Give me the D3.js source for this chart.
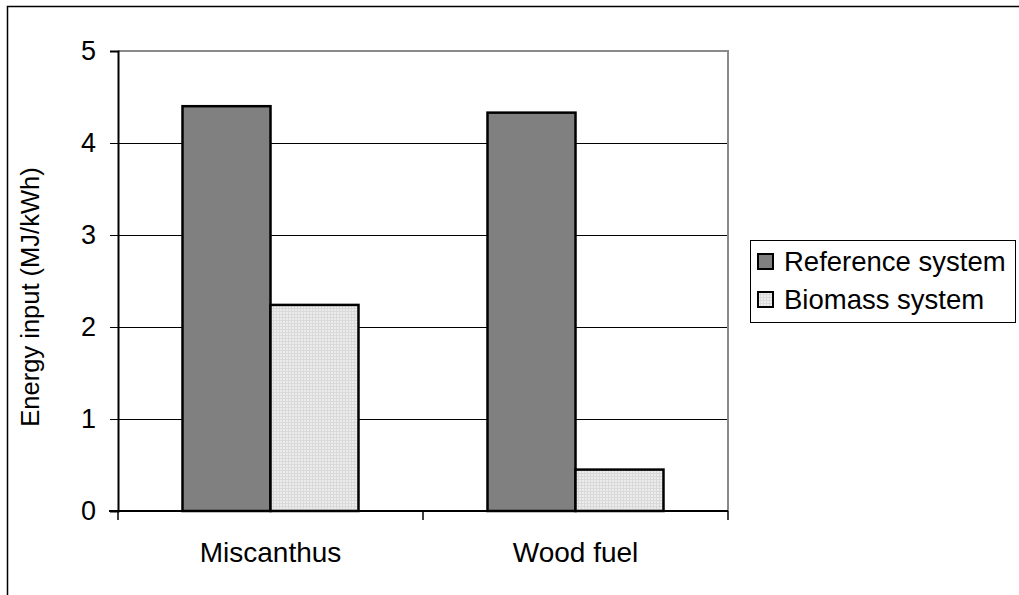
<!DOCTYPE html>
<html>
<head>
<meta charset="utf-8">
<script src="https://cdn.jsdelivr.net/npm/d3@7"></script>
<style>
  body { margin: 0; padding: 0; background: #fff; }
  text { font-family: Arial, "Liberation Sans", sans-serif; fill: #000; }
</style>
</head>
<body>
<script>
const categories = ["Miscanthus", "Wood fuel"]
const seriesNames = ["Reference system", "Biomass system"]
const referenceValues = [4.4, 4.33]
const biomassValues = [2.24, 0.45]
const yTicks = [0, 1, 2, 3, 4, 5]

const width = 1019
const height = 595
const margin = { left: 118, right: 291, top: 51, bottom: 84 }

const rows = categories.map((c, i) => ({
  category: c,
  values: [referenceValues[i], biomassValues[i]]
}))

const svg = d3.select("body").append("svg")
  .attr("width", width)
  .attr("height", height)

const defs = svg.append("defs")
const pat = defs.append("pattern")
  .attr("id", "dots")
  .attr("width", 3)
  .attr("height", 3)
  .attr("patternUnits", "userSpaceOnUse")
pat.append("rect").attr("width", 3).attr("height", 3).attr("fill", "#d9d9d9")
pat.append("rect").attr("width", 2).attr("height", 2).attr("fill", "#ececec")

const fills = ["#808080", "url(#dots)"]

// outer frame (only top and left edges visible)
svg.append("path")
  .attr("d", `M7.5,${height} V6.5 H${width}`)
  .attr("fill", "none")
  .attr("stroke", "#000")
  .attr("stroke-width", 1.5)

const y = d3.scaleLinear()
  .domain([0, 5])
  .range([height - margin.bottom, margin.top])

const x = d3.scaleBand()
  .domain(categories)
  .range([margin.left, width - margin.right])
  .padding(0)

const xInner = d3.scaleBand()
  .domain(seriesNames)
  .range([0, x.bandwidth()])
  .paddingInner(0)
  .paddingOuter(0.733)

// gridlines
svg.append("g")
  .selectAll("line")
  .data(yTicks.filter(t => t > 0 && t < 5))
  .join("line")
  .attr("x1", margin.left)
  .attr("x2", width - margin.right)
  .attr("y1", d => Math.round(y(d)) + 0.5)
  .attr("y2", d => Math.round(y(d)) + 0.5)
  .attr("stroke", "#000")
  .attr("stroke-width", 1)

// plot area top / right border (grey)
svg.append("path")
  .attr("d", `M${margin.left},${y(5)} H${width - margin.right} V${y(0)}`)
  .attr("fill", "none")
  .attr("stroke", "#8a8a8a")
  .attr("stroke-width", 2)

// bars
svg.append("g")
  .selectAll("g")
  .data(rows)
  .join("g")
  .attr("transform", d => `translate(${x(d.category)},0)`)
  .selectAll("rect")
  .data(d => d.values.map((v, i) => ({ name: seriesNames[i], value: v, i })))
  .join("rect")
  .attr("x", d => xInner(d.name))
  .attr("width", xInner.bandwidth())
  .attr("y", d => y(d.value))
  .attr("height", d => y(0) - y(d.value))
  .attr("fill", d => fills[d.i])
  .attr("stroke", "#000")
  .attr("stroke-width", 2.5)

// y axis
const yAxis = svg.append("g")
  .attr("transform", `translate(${margin.left},0)`)
  .call(d3.axisLeft(y).tickValues(yTicks).tickSize(8).tickPadding(14).tickFormat(d3.format("d")))
yAxis.select(".domain").attr("stroke", "#000").attr("stroke-width", 2)
yAxis.selectAll(".tick line").attr("stroke", "#000")
yAxis.selectAll("text").attr("font-size", 27).attr("fill", "#000")
  .style("font-family", "Arial, 'Liberation Sans', sans-serif")

// x axis
const xAxis = svg.append("g")
  .attr("transform", `translate(0,${y(0)})`)
  .call(d3.axisBottom(x).tickSize(0).tickPadding(31))
xAxis.select(".domain").remove()
xAxis.selectAll("text").attr("font-size", 28).attr("fill", "#000")
  .style("font-family", "Arial, 'Liberation Sans', sans-serif")

svg.append("line")
  .attr("x1", margin.left - 9)
  .attr("x2", width - margin.right)
  .attr("y1", y(0))
  .attr("y2", y(0))
  .attr("stroke", "#000")
  .attr("stroke-width", 2)

// category separators (ticks below axis)
const sepX = [margin.left, width - margin.right, ...categories.slice(1).map(c => x(c))]
svg.append("g")
  .selectAll("line")
  .data(sepX)
  .join("line")
  .attr("x1", d => d)
  .attr("x2", d => d)
  .attr("y1", y(0))
  .attr("y2", y(0) + 9)
  .attr("stroke", "#000")
  .attr("stroke-width", 1.5)

// y axis title
svg.append("text")
  .attr("transform", `translate(39,297) rotate(-90)`)
  .attr("text-anchor", "middle")
  .attr("font-size", 25.5)
  .text("Energy input (MJ/kWh)")

// legend
svg.append("rect")
  .attr("x", 750.5)
  .attr("y", 240.5)
  .attr("width", 265)
  .attr("height", 82)
  .attr("fill", "#fff")
  .attr("stroke", "#000")
  .attr("stroke-width", 1)

const items = svg.append("g")
  .selectAll("g")
  .data(seriesNames)
  .join("g")
  .attr("transform", (d, i) => `translate(758,${254 + i * 38})`)
items.append("rect")
  .attr("width", 15)
  .attr("height", 15)
  .attr("fill", (d, i) => fills[i])
  .attr("stroke", "#000")
  .attr("stroke-width", 2)
items.append("text")
  .attr("x", 26)
  .attr("y", 17)
  .attr("font-size", 27.5)
  .text(d => d)
</script>
</body>
</html>
